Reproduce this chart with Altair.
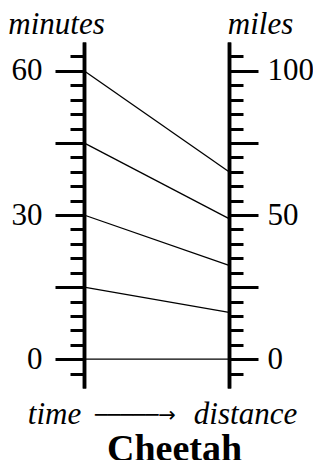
import altair as alt
import pandas as pd

# ---- data ----
times = [0, 15, 30, 45, 60]                 # minutes (left scale)
distances = [0, 16.25, 32.5, 48.75, 65]     # miles (right scale), cheetah at 65 mph
minute_major = [0, 15, 30, 45, 60]
minute_labels = [0, 30, 60]
minute_minor = list(range(-3, 64, 3))
mile_major = [0, 25, 50, 75, 100]
mile_labels = [0, 50, 100]
mile_minor = list(range(-5, 106, 5))
minute_domain = [-6, 66]
mile_domain = [-10, 110]

FONT = "Liberation Serif"
FS = 31

ratio = (minute_domain[1] - minute_domain[0]) / (mile_domain[1] - mile_domain[0])
df = pd.DataFrame({
    "time": times,
    "distance": distances,
    "distance_on_minute_scale": [minute_domain[0] + (d - mile_domain[0]) * ratio for d in distances],
    "left": [0] * len(times),
    "right": [1] * len(times),
})

min_scale = alt.Scale(domain=minute_domain, nice=False, zero=False)
mile_scale = alt.Scale(domain=mile_domain, nice=False, zero=False)

base_axis = dict(
    grid=False, domainColor="black", domainWidth=3.5, tickColor="black", tickWidth=3,
    labelFont=FONT, labelFontSize=FS, labelColor="black", labelFlush=False,
    labelOverlap=False, labelBaseline="middle",
)
title_style = dict(
    titleFont=FONT, titleFontSize=FS, titleFontStyle="italic", titleFontWeight="normal",
    titleColor="black", titleAngle=0, titleAlign="center", titleBaseline="alphabetic",
)

def label_expr(vals):
    cond = " || ".join(f"datum.value == {v}" for v in vals)
    return f"({cond}) ? datum.label : ''"

rules = alt.Chart(df).mark_rule(color="black", strokeWidth=1.3).encode(
    x=alt.X("left:Q", scale=alt.Scale(domain=[0, 1], nice=False, zero=False),
            axis=alt.Axis(domain=False, ticks=False, labels=False, grid=False,
                          title="─────→", titleFont="DejaVu Sans", titleFontSize=21,
                          titleFontWeight="normal", titleColor="black",
                          titleX=51, titleY=33, titleAlign="center", titleBaseline="alphabetic")),
    x2="right:Q",
    y=alt.Y("time:Q", scale=min_scale,
            axis=alt.Axis(orient="left", values=minute_major, tickSize=29, labelPadding=13,
                          labelExpr=label_expr(minute_labels), title="minutes",
                          titleX=-28, titleY=-9, **base_axis, **title_style)),
    y2="distance_on_minute_scale:Q",
)

left_minor = alt.Chart(df).mark_point(opacity=0).encode(
    y=alt.Y("time:Q", scale=min_scale,
            axis=alt.Axis(orient="left", values=minute_minor, tickSize=14, labels=False,
                          title="time", titleX=-30, titleY=381, **base_axis, **title_style)),
)

right_major = alt.Chart(df).mark_point(opacity=0).encode(
    y=alt.Y("distance:Q", scale=mile_scale,
            axis=alt.Axis(orient="right", values=mile_major, tickSize=29, labelPadding=9,
                          labelExpr=label_expr(mile_labels), title="miles",
                          titleX=31, titleY=-9, **base_axis, **title_style)),
)

right_minor = alt.Chart(df).mark_point(opacity=0).encode(
    y=alt.Y("distance:Q", scale=mile_scale,
            axis=alt.Axis(orient="right", values=mile_minor, tickSize=14, labels=False,
                          title="distance", titleX=16, titleY=381, **base_axis, **title_style)),
)

chart = alt.layer(rules, left_minor, right_major, right_minor).resolve_scale(
    y="independent"
).properties(
    width=145, height=346,
    autosize=alt.AutoSizeParams(type="none"),
    padding={"left": 76, "top": 34, "right": 84, "bottom": 72},
    title=alt.TitleParams("Cheetah", orient="bottom", font=FONT, fontSize=38,
                          fontWeight="bold", color="black", anchor="middle",
                          frame="group", dx=18, offset=2),
).configure_view(stroke=None)

chart.save("out.html", embed_options={"renderer": "svg", "actions": False})
